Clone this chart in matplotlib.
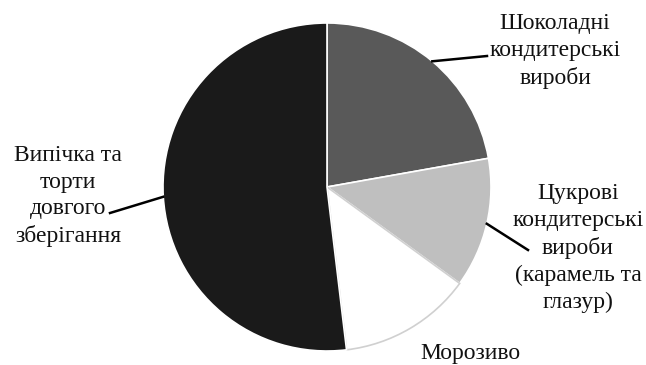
import matplotlib
matplotlib.use("Agg")
import matplotlib.pyplot as plt
import numpy as np

plt.rcParams['font.family'] = ['Liberation Serif', 'DejaVu Serif']

labels = ["Шоколадні\nкондитерські\nвироби",
          "Цукрові\nкондитерські\nвироби\n(карамель та\nглазур)",
          "Морозиво",
          "Випічка та\nторти\nдовгого\nзберігання"]
shares = [22.2, 12.8, 13.1, 51.9]
colors = ["#595959", "#bfbfbf", "#ffffff", "#1a1a1a"]

# label text positions (pixels, y up) and leader line end
text_pos = [(555, 314), (578, 117), (470, 11), (68, 169)]
leader_end = [(487, 309), (528, 115), None, (110, 152)]

fig = plt.figure(figsize=(6.46, 3.65), dpi=100)
ax = fig.add_axes([0, 0, 1, 1])

cx, cy, r = 327, 178, 164
wedges, _ = ax.pie(shares, colors=colors, startangle=90, counterclock=False,
                   center=(cx, cy), radius=r, frame=True,
                   wedgeprops=dict(edgecolor='white', linewidth=1.2))
wedges[2].set_edgecolor('#d0d0d0')
ax.set_xlim(0, 646)
ax.set_ylim(0, 365)
ax.axis('off')

for w, lab, tp, le in zip(wedges, labels, text_pos, leader_end):
    ax.text(tp[0], tp[1], lab, ha='center', va='center', fontsize=17,
            linespacing=1.35, color='#111111')
    if le is not None:
        mid = np.deg2rad((w.theta1 + w.theta2) / 2)
        x0 = cx + r * np.cos(mid)
        y0 = cy + r * np.sin(mid)
        ax.plot([x0, le[0]], [y0, le[1]], color='black', lw=1.8)

fig.savefig("out.png", dpi=100)
